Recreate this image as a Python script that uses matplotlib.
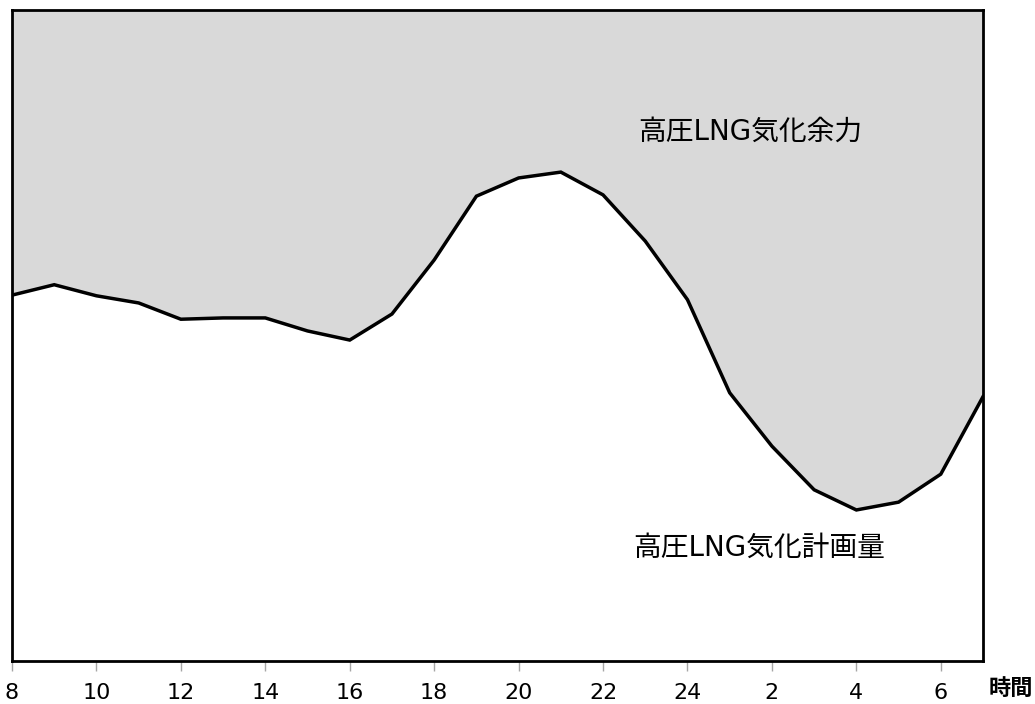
import numpy as np
import matplotlib.pyplot as plt

plt.rcParams['font.family'] = ['DejaVu Sans', 'Noto Sans CJK JP']

# hours 8..31 (31 = 7 o'clock next day)
hours = list(range(8, 32))
plan = [56.2, 57.8, 56.1, 55.0, 52.5, 52.7, 52.7, 50.7, 49.3, 53.3, 61.6, 71.4,
        74.2, 75.1, 71.6, 64.5, 55.5, 41.2, 33.0, 26.3, 23.2, 24.4, 28.7, 40.6]
capacity = 100

tick_pos = list(range(8, 31, 2))
tick_labels = ['8', '10', '12', '14', '16', '18', '20', '22', '24', '2', '4', '6']

fig = plt.figure(figsize=(10.35, 7.04), dpi=100)
ax = fig.add_axes([12/1035, 43/704, 971/1035, 651/704])

ax.fill_between(hours, plan, capacity, color='#d9d9d9', lw=0)
ax.plot(hours, plan, color='black', lw=2.5, solid_joinstyle='miter')

ax.set_xlim(8, 31)
ax.set_ylim(0, 100)
ax.set_yticks([])
ax.set_xticks(tick_pos)
ax.set_xticklabels(tick_labels, fontsize=16)
ax.tick_params(axis='x', length=7, width=1, color='#a6a6a6', pad=9)
for s in ax.spines.values():
    s.set_linewidth(2)

ax.text(25.5, 81.3, '高圧LNG気化余力', fontsize=20, ha='center', va='center')
ax.text(25.7, 17.4, '高圧LNG気化計画量', fontsize=20, ha='center', va='center')
fig.text(0.9985, 16/704, '時間', fontsize=16, fontweight='bold', ha='right', va='center',
         family=['Noto Sans CJK JP'])

fig.savefig('out.png', dpi=100)
